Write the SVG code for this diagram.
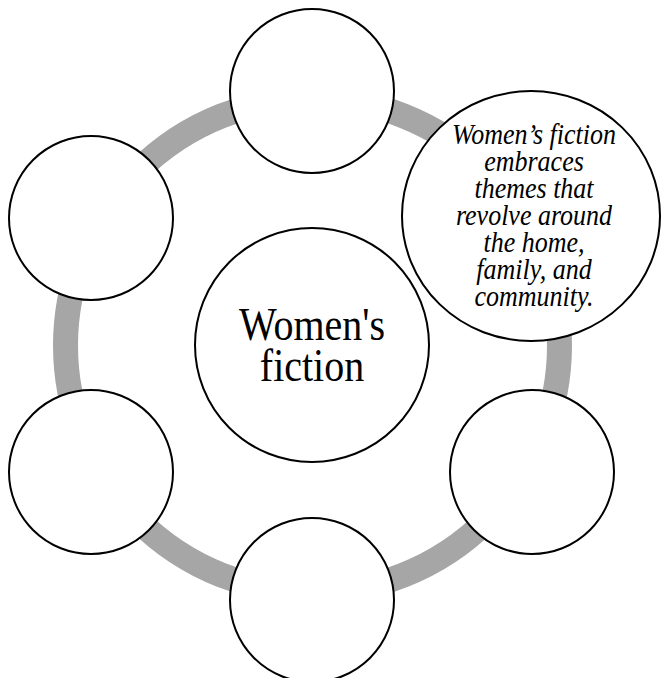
<svg xmlns="http://www.w3.org/2000/svg" width="661" height="678" viewBox="0 0 661 678">
  <style>
    .node { fill: #ffffff; stroke: #000000; stroke-width: 2; }
    .ring { fill: none; stroke: #a6a6a6; stroke-width: 25; }
    .center-label { font-family: "Liberation Serif", "Times New Roman", serif; font-size: 40px; fill: #000000; text-anchor: middle; }
    .desc { font-family: "Liberation Serif", "Times New Roman", serif; font-size: 26px; font-style: italic; fill: #000000; text-anchor: middle; }
  </style>
  <rect width="661" height="678" fill="#ffffff"/>
  <g id="connectors">
    <circle class="ring" cx="312.5" cy="345.5" r="247"/>
  </g>
  <g id="node-center">
    <circle class="node" cx="312" cy="345" r="117"/>
    <text class="center-label" transform="translate(312,340) scale(1,1.18)" x="0" y="0">Women's</text>
    <text class="center-label" transform="translate(312,380.5) scale(1,1.18)" x="0" y="0">fiction</text>
  </g>
  <g id="node-top">
    <circle class="node" cx="312" cy="91" r="82"/>
  </g>
  <g id="node-top-right">
    <ellipse class="node" cx="531" cy="216" rx="129" ry="125"/>
    <text class="desc" transform="translate(534,144) scale(1,1.1)">Women’s fiction</text>
    <text class="desc" transform="translate(534,171) scale(1,1.1)">embraces</text>
    <text class="desc" transform="translate(534,198) scale(1,1.1)">themes that</text>
    <text class="desc" transform="translate(534,225) scale(1,1.1)">revolve around</text>
    <text class="desc" transform="translate(534,252) scale(1,1.1)">the home,</text>
    <text class="desc" transform="translate(534,279) scale(1,1.1)">family, and</text>
    <text class="desc" transform="translate(534,306) scale(1,1.1)">community.</text>
  </g>
  <g id="node-bottom-right">
    <circle class="node" cx="532" cy="472" r="82"/>
  </g>
  <g id="node-bottom">
    <circle class="node" cx="312" cy="600" r="82"/>
  </g>
  <g id="node-bottom-left">
    <circle class="node" cx="91" cy="472" r="82"/>
  </g>
  <g id="node-top-left">
    <circle class="node" cx="91" cy="218" r="82"/>
  </g>
</svg>
